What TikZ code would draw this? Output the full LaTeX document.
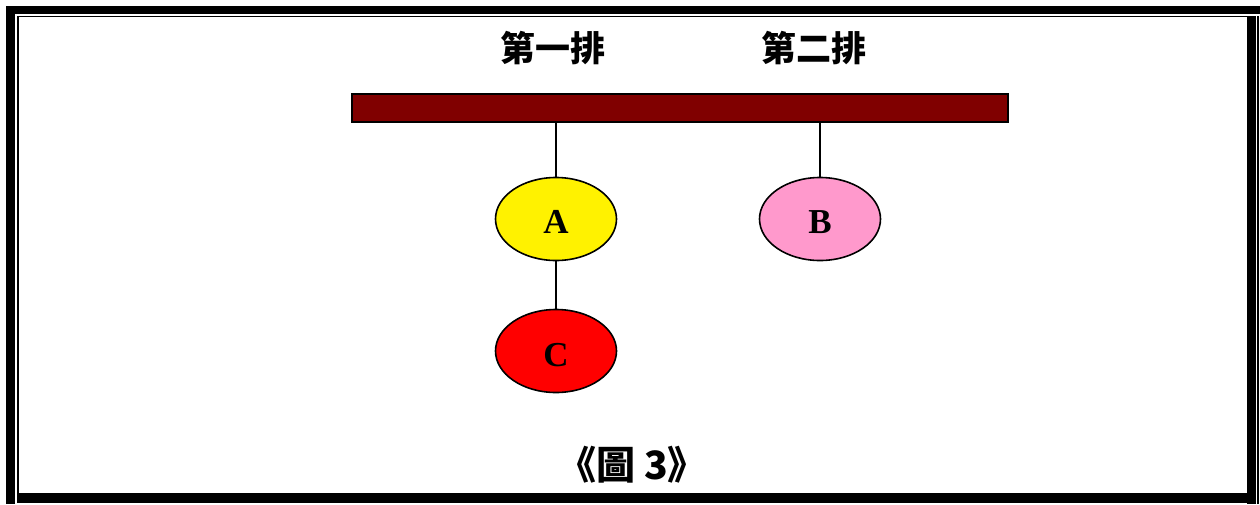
\documentclass[tikz,border=0pt]{standalone}
\usepackage{fontspec}
\setmainfont{Liberation Serif}
\newfontfamily\cjk{Noto Sans CJK TC}
\usetikzlibrary{shapes.geometric}
\definecolor{barred}{HTML}{800000}
\definecolor{pinkb}{HTML}{FF99CC}
\tikzset{
  frame/.style={fill=black, draw=none},
  node oval/.style={ellipse, draw=black, line width=1.6pt, minimum width=121pt, minimum height=83pt, inner sep=0pt},
  ovaltext/.style={font=\fontsize{35}{37}\selectfont\bfseries, inner sep=0pt},
  link/.style={draw=black, line width=1.5pt},
  rowlabel/.style={font=\cjk\bfseries\fontsize{35}{38}\selectfont, inner sep=0pt},
}
\begin{document}
\begin{tikzpicture}[x=1pt,y=-1pt]
\useasboundingbox (0,0) rectangle (1260,504);
% frame
\fill[frame] (6,6) rectangle (1260,14);
\fill[frame] (6,6) rectangle (15,504);
\fill[frame] (17,15.5) rectangle (1256,17.3);
\fill[frame] (17,15.5) rectangle (18.6,493);
\fill[frame] (1257.2,15.5) rectangle (1259.2,504);
\fill[frame] (1247,17) rectangle (1256,504);
\fill[frame] (17,493) rectangle (1256,503);
% bar
\node[draw=black, line width=2pt, fill=barred, minimum width=656pt, minimum height=28pt, inner sep=0pt, anchor=north west] (bar) at (351,93) {};
% labels
\node[rowlabel] (l1) at (553,48) {第一排};
\node[rowlabel] (l2) at (814,48) {第二排};
% nodes
\node[node oval, fill=yellow] (A) at (556,219) {};
\node[node oval, fill=pinkb] (B) at (820,219) {};
\node[node oval, fill=red] (C) at (556,351) {};
\node[ovaltext] (tA) at (556,222) {A};
\node[ovaltext] (tB) at (820,222) {B};
\node[ovaltext] (tC) at (556,355) {C};
\coordinate (pa) at (556,121);
\coordinate (pb) at (820,121);
\draw[link] (pa) -- (A.north);
\draw[link] (pb) -- (B.north);
\draw[link] (A.south) -- (C.north);
% caption
\node[font=\cjk\bfseries\fontsize{39}{41}\selectfont, inner sep=0pt] (cap) at (632,465) {《圖 3》};
\end{tikzpicture}
\end{document}
